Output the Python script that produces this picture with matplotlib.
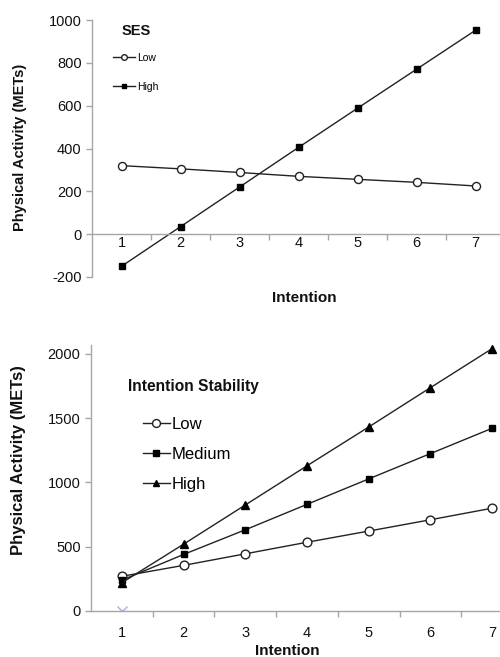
import matplotlib
matplotlib.use("Agg")
import matplotlib.pyplot as plt
from matplotlib.ticker import FixedLocator, NullFormatter

plt.rcParams['font.family'] = ['Liberation Sans', 'DejaVu Sans']
plt.rcParams['axes.unicode_minus'] = False

intention = [1, 2, 3, 4, 5, 6, 7]

ses_low = [320, 305, 288, 270, 256, 242, 225]
ses_high = [-150, 35, 220, 405, 588, 770, 952]

stab_low = [270, 355, 445, 535, 622, 710, 800]
stab_medium = [240, 440, 632, 830, 1028, 1225, 1422]
stab_high = [220, 520, 825, 1130, 1432, 1738, 2042]

top_yticks = [-200, 0, 200, 400, 600, 800, 1000]
bot_yticks = [0, 500, 1000, 1500, 2000]

AX_GRAY = '#a6a6a6'
TXT = '#111111'

fig = plt.figure(figsize=(5.0, 6.57), dpi=100)
W, H = 500, 657

def axes_px(left, right, top, bottom):
    return fig.add_axes([left / W, 1 - bottom / H, (right - left) / W, (bottom - top) / H])

def fpx(x, y):
    return (x / W, 1 - y / H)

def style(ax, xpad):
    for s in ['top', 'right']:
        ax.spines[s].set_visible(False)
    for s in ['left', 'bottom']:
        ax.spines[s].set_color(AX_GRAY)
        ax.spines[s].set_linewidth(1.0)
    ax.tick_params(axis='y', colors=AX_GRAY, labelcolor=TXT, length=4, width=1, direction='out', labelsize=10.5)
    ax.xaxis.set_major_locator(FixedLocator([1.5, 2.5, 3.5, 4.5, 5.5, 6.5]))
    ax.xaxis.set_major_formatter(NullFormatter())
    ax.tick_params(axis='x', which='major', colors=AX_GRAY, length=4, width=1, direction='out')
    ax.xaxis.set_minor_locator(FixedLocator(intention))
    ax.set_xticklabels([str(v) for v in intention], minor=True)
    ax.tick_params(axis='x', which='minor', length=0, labelcolor=TXT, labelsize=10.5, pad=xpad)
    ax.set_facecolor('none')

# ---- Top panel ----
ax1 = axes_px(92, 505, 20, 277)
ax1.set_xlim(0.5, 7.5)
ax1.set_ylim(-200, 1000)
ax1.set_yticks(top_yticks)
style(ax1, 1.5)
ax1.spines['bottom'].set_position(('data', 0))
ax1.plot(intention, ses_low, color='#222222', lw=1.0, marker='o', ms=5.8,
         mfc='white', mec='#222222', mew=1.0, label='Low')
ax1.plot(intention, ses_high, color='#222222', lw=1.0, marker='s', ms=5,
         mfc='black', mec='black', label='High')
leg1 = ax1.legend(loc='upper left', bbox_to_anchor=fpx(113, 53), bbox_transform=fig.transFigure,
                  frameon=False, fontsize=7.5, handlelength=2.1, handletextpad=0.2,
                  labelspacing=1.8, markerscale=0.7, borderpad=0, borderaxespad=0)
fig.text(*fpx(122, 31), 'SES', fontsize=10.5, fontweight='bold', color=TXT, ha='left', va='center')
ax1.set_ylabel('Physical Activity (METs)', fontsize=10.5, fontweight='bold', color=TXT)
ax1.yaxis.set_label_coords(-0.158, 0.506)
fig.text(*fpx(304, 298), 'Intention', fontsize=11, fontweight='bold',
         color=TXT, ha='center', va='center')

# ---- Bottom panel ----
ax2 = axes_px(91, 523, 345, 611)
ax2.set_xlim(0.5, 7.5)
ax2.set_ylim(0, 2070)
ax2.set_yticks(bot_yticks)
style(ax2, 11)
ax2.plot([1], [0], linestyle='none', marker='x', ms=7, mec='#b8a8d8', mew=1.0)
ax2.plot(intention, stab_low, color='#222222', lw=1.0, marker='o', ms=6.3,
         mfc='white', mec='#222222', mew=1.0, label='Low')
ax2.plot(intention, stab_medium, color='#222222', lw=1.0, marker='s', ms=5,
         mfc='black', mec='black', label='Medium')
ax2.plot(intention, stab_high, color='#222222', lw=1.0, marker='^', ms=5.5,
         mfc='black', mec='black', label='High')
leg2 = ax2.legend(loc='upper left', bbox_to_anchor=fpx(143, 417), bbox_transform=fig.transFigure,
                  frameon=False, fontsize=12, handlelength=1.6, handletextpad=0.1,
                  labelspacing=0.9, markerscale=0.9, borderpad=0, borderaxespad=0)
fig.text(*fpx(128, 387), 'Intention Stability', fontsize=11.2, fontweight='bold',
         color=TXT, ha='left', va='center')
ax2.set_ylabel('Physical Activity (METs)', fontsize=12, fontweight='bold', color=TXT)
ax2.yaxis.set_label_coords(-0.150, 0.568)
fig.text(*fpx(287, 651), 'Intention', fontsize=11, fontweight='bold',
         color=TXT, ha='center', va='center')

fig.savefig('out.png', dpi=100)
